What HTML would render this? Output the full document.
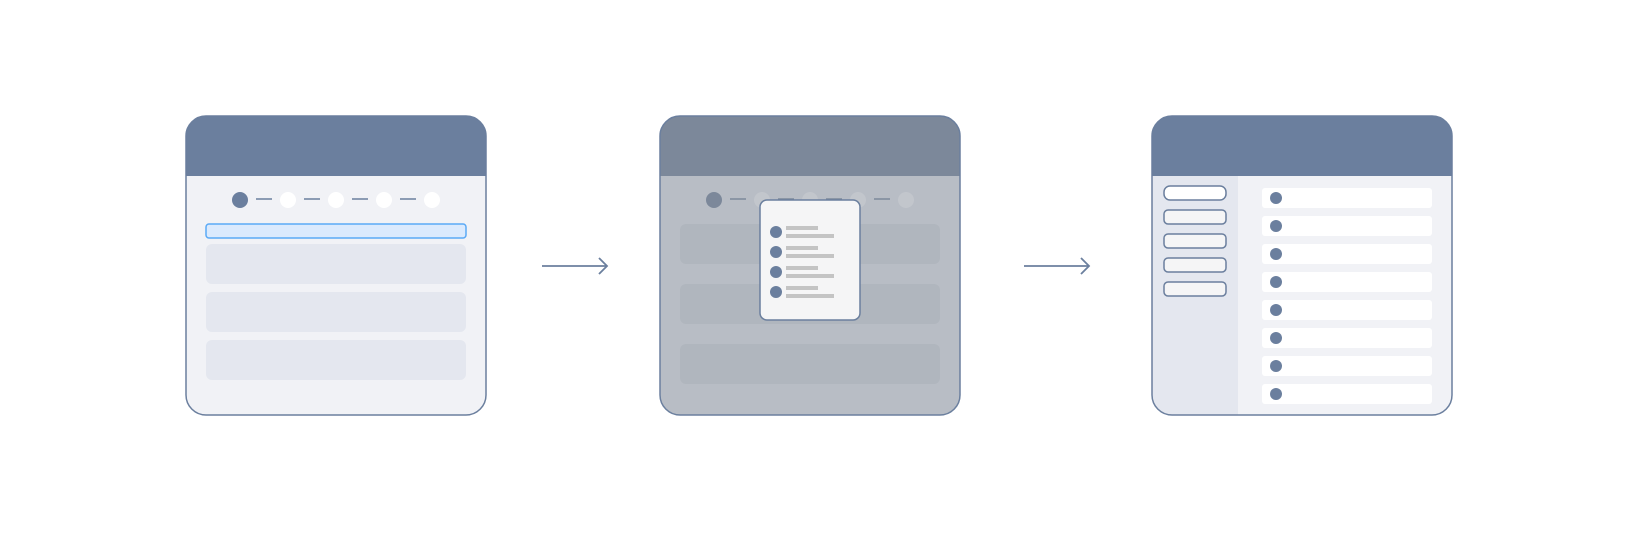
<!DOCTYPE html>
<html><head><meta charset="utf-8"><style>html,body{margin:0;padding:0;background:#fff}</style></head>
<body>
<svg width="1638" height="534" viewBox="0 0 1638 534" xmlns="http://www.w3.org/2000/svg">
<defs>
<clipPath id="c1"><rect x="186" y="116" width="300" height="299" rx="20"/></clipPath>
<clipPath id="c2"><rect x="660" y="116" width="300" height="299" rx="20"/></clipPath>
<clipPath id="c3"><rect x="1152" y="116" width="300" height="299" rx="20"/></clipPath>
</defs>
<!-- Panel 1 -->
<g clip-path="url(#c1)">
<rect x="186" y="116" width="300" height="299" fill="#f1f2f6"/>
<rect x="186" y="116" width="300" height="60" fill="#6b7f9e"/>
</g>
<rect x="186" y="116" width="300" height="299" rx="20" fill="none" stroke="#6b7f9e" stroke-width="1.5"/>
<circle cx="240" cy="200" r="8" fill="#6b7f9e"/>
<circle cx="288" cy="200" r="8" fill="#fff"/>
<circle cx="336" cy="200" r="8" fill="#fff"/>
<circle cx="384" cy="200" r="8" fill="#fff"/>
<circle cx="432" cy="200" r="8" fill="#fff"/>
<g stroke="#6b7f9e" stroke-width="1.5"><line x1="256" y1="199" x2="272" y2="199"/><line x1="304" y1="199" x2="320" y2="199"/><line x1="352" y1="199" x2="368" y2="199"/><line x1="400" y1="199" x2="416" y2="199"/></g>
<rect x="206" y="224" width="260" height="14" rx="3" fill="#dbeafd" stroke="#5aa9f6" stroke-width="1.5"/>
<rect x="206" y="244" width="260" height="40" rx="6" fill="#e4e7ef"/>
<rect x="206" y="292" width="260" height="40" rx="6" fill="#e4e7ef"/>
<rect x="206" y="340" width="260" height="40" rx="6" fill="#e4e7ef"/>
<!-- Arrow 1 -->
<g stroke="#6b7f9e" stroke-width="1.8" fill="none"><line x1="542" y1="266" x2="606" y2="266"/><polyline points="599,258 607,266 599,274"/></g>
<!-- Panel 2 -->
<g clip-path="url(#c2)">
<rect x="660" y="116" width="300" height="299" fill="#b8bdc5"/>
<rect x="660" y="116" width="300" height="60" fill="#7c889a"/>
</g>
<rect x="660" y="116" width="300" height="299" rx="20" fill="none" stroke="#6b7f9e" stroke-width="1.5"/>
<circle cx="714" cy="200" r="8" fill="#7c889a"/>
<circle cx="762" cy="200" r="8" fill="#c2c6cc"/>
<circle cx="810" cy="200" r="8" fill="#c2c6cc"/>
<circle cx="858" cy="200" r="8" fill="#c2c6cc"/>
<circle cx="906" cy="200" r="8" fill="#c2c6cc"/>
<g stroke="#7c889a" stroke-width="1.5"><line x1="730" y1="199" x2="746" y2="199"/><line x1="778" y1="199" x2="794" y2="199"/><line x1="826" y1="199" x2="842" y2="199"/><line x1="874" y1="199" x2="890" y2="199"/></g>
<rect x="680" y="224" width="260" height="40" rx="6" fill="#b0b6be"/>
<rect x="680" y="284" width="260" height="40" rx="6" fill="#b0b6be"/>
<rect x="680" y="344" width="260" height="40" rx="6" fill="#b0b6be"/>
<rect x="760" y="200" width="100" height="120" rx="7" fill="#f5f5f6" stroke="#6b7f9e" stroke-width="1.5"/>
<g fill="#6b7f9e"><circle cx="776" cy="232" r="6"/><circle cx="776" cy="252" r="6"/><circle cx="776" cy="272" r="6"/><circle cx="776" cy="292" r="6"/></g>
<g fill="#c4c4c4">
<rect x="786" y="226" width="32" height="4"/><rect x="786" y="234" width="48" height="4"/>
<rect x="786" y="246" width="32" height="4"/><rect x="786" y="254" width="48" height="4"/>
<rect x="786" y="266" width="32" height="4"/><rect x="786" y="274" width="48" height="4"/>
<rect x="786" y="286" width="32" height="4"/><rect x="786" y="294" width="48" height="4"/>
</g>
<!-- Arrow 2 -->
<g stroke="#6b7f9e" stroke-width="1.8" fill="none"><line x1="1024" y1="266" x2="1088" y2="266"/><polyline points="1081,258 1089,266 1081,274"/></g>
<!-- Panel 3 -->
<g clip-path="url(#c3)">
<rect x="1152" y="116" width="300" height="299" fill="#f1f2f6"/>
<rect x="1152" y="176" width="86" height="240" fill="#e4e7ef"/>
<rect x="1152" y="116" width="300" height="60" fill="#6b7f9e"/>
</g>
<rect x="1152" y="116" width="300" height="299" rx="20" fill="none" stroke="#6b7f9e" stroke-width="1.5"/>
<g stroke="#6b7f9e" stroke-width="1.5">
<rect x="1164" y="186" width="62" height="14" rx="6" fill="#fff"/>
<rect x="1164" y="210" width="62" height="14" rx="4" fill="#f5f5f6"/>
<rect x="1164" y="234" width="62" height="14" rx="4" fill="#f5f5f6"/>
<rect x="1164" y="258" width="62" height="14" rx="4" fill="#f5f5f6"/>
<rect x="1164" y="282" width="62" height="14" rx="4" fill="#f5f5f6"/>
</g>
<g>
<rect x="1262" y="188" width="170" height="20" rx="3" fill="#fff"/><circle cx="1276" cy="198" r="6" fill="#6b7f9e"/>
<rect x="1262" y="216" width="170" height="20" rx="3" fill="#fff"/><circle cx="1276" cy="226" r="6" fill="#6b7f9e"/>
<rect x="1262" y="244" width="170" height="20" rx="3" fill="#fff"/><circle cx="1276" cy="254" r="6" fill="#6b7f9e"/>
<rect x="1262" y="272" width="170" height="20" rx="3" fill="#fff"/><circle cx="1276" cy="282" r="6" fill="#6b7f9e"/>
<rect x="1262" y="300" width="170" height="20" rx="3" fill="#fff"/><circle cx="1276" cy="310" r="6" fill="#6b7f9e"/>
<rect x="1262" y="328" width="170" height="20" rx="3" fill="#fff"/><circle cx="1276" cy="338" r="6" fill="#6b7f9e"/>
<rect x="1262" y="356" width="170" height="20" rx="3" fill="#fff"/><circle cx="1276" cy="366" r="6" fill="#6b7f9e"/>
<rect x="1262" y="384" width="170" height="20" rx="3" fill="#fff"/><circle cx="1276" cy="394" r="6" fill="#6b7f9e"/>
</g>
</svg>
</body></html>
